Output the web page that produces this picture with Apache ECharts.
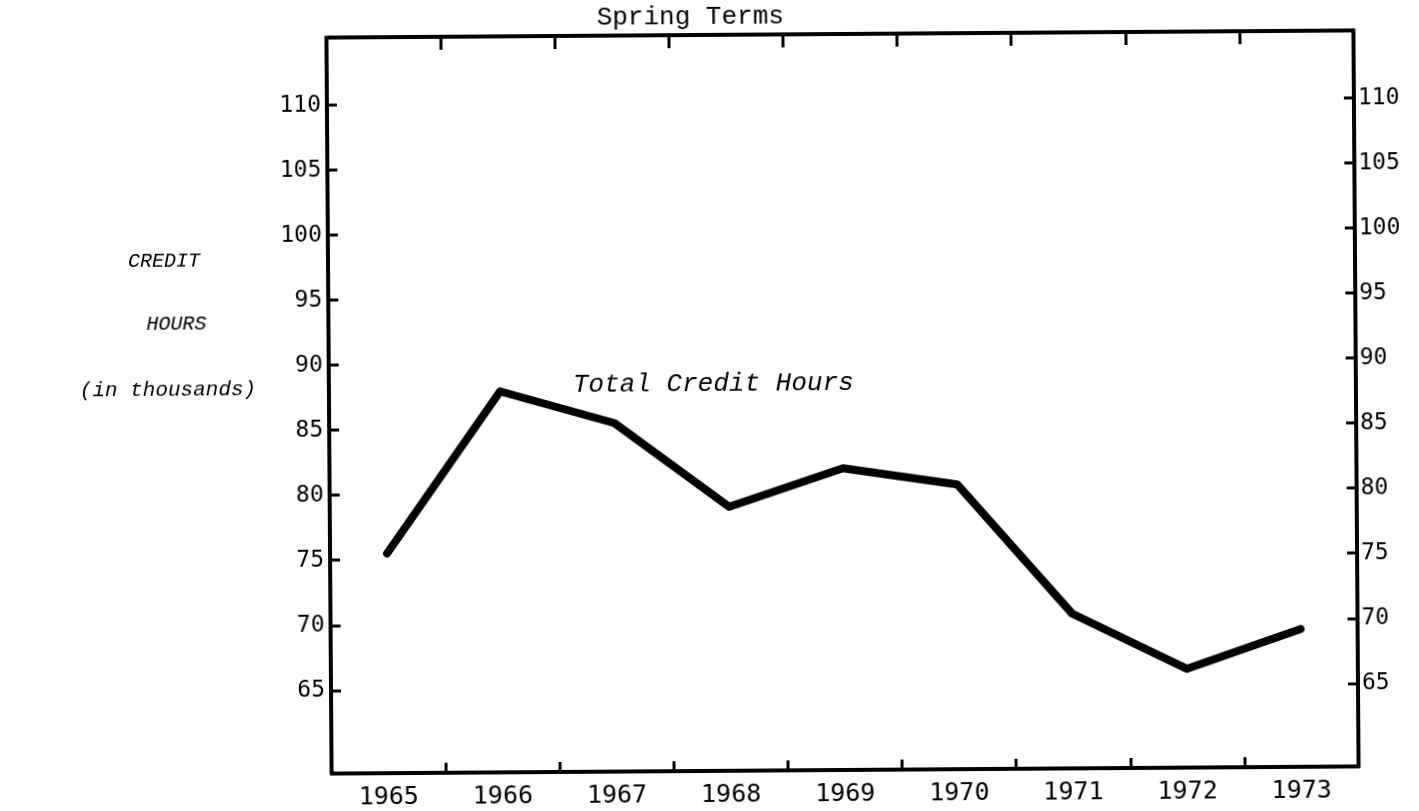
<!DOCTYPE html>
<html>
<head>
<meta charset="utf-8">
<title>Spring Terms - Total Credit Hours</title>
<script src="https://cdn.jsdelivr.net/npm/echarts@6/dist/echarts.min.js"></script>
<style>
  html, body { margin: 0; padding: 0; background: #ffffff; }
  #chart {
    width: 1419px;
    height: 811px;
    transform: rotate(-0.4deg);
    transform-origin: 842px 402px;
  }
</style>
</head>
<body>
<div id="chart"></div>
<script>
// Spring term years along the bottom axis
const years = ['1965', '1966', '1967', '1968', '1969', '1970', '1971', '1972', '1973'];
// Total credit hours per spring term, in thousands
const creditHours = [75.5, 87.9, 85.4, 78.9, 81.8, 80.5, 70.5, 66.2, 69.2];
// Labelled ticks on both vertical scales
const yTicks = [65, 70, 75, 80, 85, 90, 95, 100, 105, 110];

const TYPE_FONT = '"Liberation Mono", "Courier New", monospace';
const NUM_FONT = '"DejaVu Sans Mono", "Liberation Mono", monospace';
const INK = '#000000';

const chart = echarts.init(document.getElementById('chart'), null, { renderer: 'canvas' });

function yAxisCfg(position) {
  return {
    type: 'value',
    position: position,
    min: 58.6,
    max: 115.2,
    splitLine: { show: false },
    axisLine: { show: true, lineStyle: { color: INK, width: 4 } },
    axisTick: {
      show: true,
      inside: true,
      length: 10,
      customValues: yTicks,
      lineStyle: { color: INK, width: 3 }
    },
    axisLabel: {
      show: true,
      customValues: yTicks,
      margin: position === 'left' ? 6 : 4,
      color: INK,
      fontFamily: NUM_FONT,
      fontSize: 23,
      padding: [0, 0, 16, 0]
    }
  };
}

const option = {
  backgroundColor: '#ffffff',
  animation: false,
  grid: { left: 329, right: 63, top: 34, bottom: 41, containLabel: false },
  xAxis: [
    {
      type: 'category',
      position: 'bottom',
      data: years,
      boundaryGap: true,
      axisLine: { show: true, lineStyle: { color: INK, width: 4 } },
      axisTick: { show: true, inside: true, length: 10, lineStyle: { color: INK, width: 3 } },
      axisLabel: { color: INK, fontFamily: NUM_FONT, fontSize: 25, margin: 12 },
      splitLine: { show: false }
    },
    {
      type: 'category',
      position: 'top',
      data: years,
      boundaryGap: true,
      axisLine: { show: true, lineStyle: { color: INK, width: 4 } },
      axisTick: { show: true, inside: true, length: 13, lineStyle: { color: INK, width: 3 } },
      axisLabel: { show: false },
      splitLine: { show: false }
    }
  ],
  yAxis: [yAxisCfg('left'), yAxisCfg('right')],
  series: [
    {
      name: 'Total Credit Hours',
      type: 'line',
      xAxisIndex: 0,
      yAxisIndex: 0,
      data: creditHours,
      symbol: 'none',
      lineStyle: { color: INK, width: 8, join: 'round', cap: 'round' }
    }
  ],
  graphic: [
    {
      type: 'text', x: 693, y: 16,
      style: { text: 'Spring Terms', fill: INK, font: '26px ' + TYPE_FONT, align: 'center', verticalAlign: 'middle' }
    },
    {
      type: 'text', x: 573, y: 383,
      style: { text: 'Total Credit Hours', fill: INK, font: 'italic 26px ' + TYPE_FONT, align: 'left', verticalAlign: 'middle' }
    },
    {
      type: 'text', x: 165, y: 257,
      style: { text: 'CREDIT', fill: INK, font: 'italic 20px ' + TYPE_FONT, align: 'center', verticalAlign: 'middle' }
    },
    {
      type: 'text', x: 177, y: 320,
      style: { text: 'HOURS', fill: INK, font: 'italic 20px ' + TYPE_FONT, align: 'center', verticalAlign: 'middle' }
    },
    {
      type: 'text', x: 168, y: 385,
      style: { text: '(in thousands)', fill: INK, font: 'italic 21px ' + TYPE_FONT, align: 'center', verticalAlign: 'middle' }
    }
  ]
};

chart.setOption(option);
</script>
</body>
</html>
